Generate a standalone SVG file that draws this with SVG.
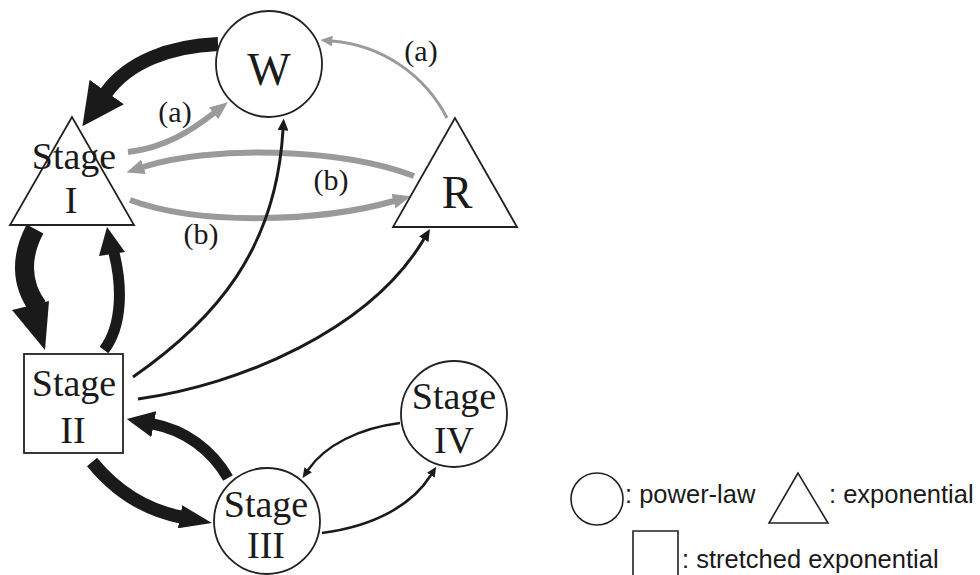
<svg xmlns="http://www.w3.org/2000/svg" width="980" height="575" viewBox="0 0 980 575">
  <style>
    .node { fill: #ffffff; stroke: #222222; stroke-width: 1.8; }
    .lab { font-family: "Liberation Serif", "Times New Roman", serif; fill: #1a1a1a; text-anchor: middle; }
    .stage { font-size: 38px; }
    .big { font-size: 46px; }
    .tag { font-family: "Liberation Serif", "Times New Roman", serif; font-size: 30px; fill: #1a1a1a; text-anchor: middle; }
    .edge { fill: none; stroke-linecap: butt; }
    .blk { stroke: #1a1a1a; }
    .gry { stroke: #9a9a9a; }
    .head { fill: #1a1a1a; }
    .leg { fill: none; stroke: #222222; stroke-width: 1.6; }
    .legtxt { font-family: "Liberation Sans", Arial, sans-serif; font-size: 25.5px; fill: #1a1a1a; }
  </style>
  <defs>
    <marker id="m-thin-blk" viewBox="0 0 10 10" refX="0.3" refY="5" markerWidth="4" markerHeight="3.6" orient="auto" preserveAspectRatio="none">
      <path d="M0,0 L10,5 L0,10 z" fill="#1a1a1a"/>
    </marker>
    <marker id="m-thin-gry" viewBox="0 0 10 10" refX="0.3" refY="5" markerWidth="4" markerHeight="3.6" orient="auto" preserveAspectRatio="none">
      <path d="M0,0 L10,5 L0,10 z" fill="#9a9a9a"/>
    </marker>
    <marker id="m-gry" viewBox="0 0 10 10" refX="0.3" refY="5" markerWidth="3" markerHeight="2.5" orient="auto" preserveAspectRatio="none">
      <path d="M0,0 L10,5 L0,10 z" fill="#9a9a9a"/>
    </marker>
    <marker id="m-bold" viewBox="0 0 10 10" refX="0.3" refY="5" markerWidth="3" markerHeight="3" orient="auto" preserveAspectRatio="none">
      <path d="M0,0 L10,5 L0,10 z" fill="#1a1a1a"/>
    </marker>
    <marker id="m-blunt" viewBox="0 0 10 10" refX="0.3" refY="5" markerWidth="2.5" markerHeight="2.4" orient="auto" preserveAspectRatio="none">
      <path d="M0,0 L10,5 L0,10 z" fill="#1a1a1a"/>
    </marker>
    <marker id="m-narrow" viewBox="0 0 10 10" refX="0.3" refY="5" markerWidth="2.5" markerHeight="1.8" orient="auto" preserveAspectRatio="none">
      <path d="M0,0 L10,5 L0,10 z" fill="#1a1a1a"/>
    </marker>
  </defs>

  <!-- transitions -->
  <g id="connectors">
    <!-- W -> Stage I -->
    <path class="edge blk" stroke-width="14" d="M218 44 C170 46 128 62 106 93" marker-end="url(#m-bold)"/>
    <!-- Stage I -> W (a) -->
    <path class="edge gry" stroke-width="6" d="M128 152 C165 148 192 130 214 113" marker-end="url(#m-gry)"/>
    <!-- R -> Stage I (b) -->
    <path class="edge gry" stroke-width="6" d="M414 176 C340 148 210 145 143 167" marker-end="url(#m-gry)"/>
    <!-- Stage I -> R (b) -->
    <path class="edge gry" stroke-width="6" d="M130 200 C200 226 320 222 394 201" marker-end="url(#m-gry)"/>
    <!-- R -> W (a) -->
    <path class="edge gry" stroke-width="3" d="M447 118 C425 75 382 45 332 41" marker-end="url(#m-thin-gry)"/>
    <!-- Stage II -> W -->
    <path class="edge blk" stroke-width="3" d="M133 377 C215 320 276 250 283 130" marker-end="url(#m-thin-blk)"/>
    <!-- Stage II -> R -->
    <path class="edge blk" stroke-width="3" d="M138 399 C240 385 370 330 424 239" marker-end="url(#m-thin-blk)"/>
    <!-- Stage I -> Stage II (half-barbed head) -->
    <path class="edge blk" stroke-width="19" d="M35 229 C21 255 20 283 38 307"/>
    <polygon class="head" points="12,310 49,301 45,350"/>
    <!-- Stage II -> Stage I (half-barbed head) -->
    <path class="edge blk" stroke-width="11" d="M104 350 C123 325 122 285 114 253"/>
    <polygon class="head" points="99,256 125,252 107,227"/>
    <!-- Stage III -> Stage II -->
    <path class="edge blk" stroke-width="11" d="M228 478 C212 450 185 430 153 424" marker-end="url(#m-blunt)"/>
    <!-- Stage II -> Stage III -->
    <path class="edge blk" stroke-width="13" d="M92 462 C115 490 145 510 181 517" marker-end="url(#m-narrow)"/>
    <!-- Stage IV -> Stage III -->
    <path class="edge blk" stroke-width="2.5" d="M400 423 C360 428 325 445 308 470" marker-end="url(#m-thin-blk)"/>
    <!-- Stage III -> Stage IV -->
    <path class="edge blk" stroke-width="2.5" d="M322 533 C375 526 412 505 431 475" marker-end="url(#m-thin-blk)"/>

    <text class="tag" x="175" y="122">(a)</text>
    <text class="tag" x="421" y="61">(a)</text>
    <text class="tag" x="331" y="190">(b)</text>
    <text class="tag" x="201" y="244">(b)</text>
  </g>

  <g id="node-w">
    <circle class="node" cx="269" cy="64" r="53"/>
    <text class="lab big" x="269" y="85">W</text>
  </g>

  <g id="node-stage1">
    <polygon class="node" points="72,117 10,225 134,225"/>
    <text class="lab stage" x="74" y="169">Stage</text>
    <text class="lab stage" x="71" y="213">I</text>
  </g>

  <g id="node-r">
    <polygon class="node" points="455,118 393,227 517,227"/>
    <text class="lab big" x="457" y="208">R</text>
  </g>

  <g id="node-stage2">
    <rect class="node" x="24" y="354" width="99" height="99"/>
    <text class="lab stage" x="74" y="396">Stage</text>
    <text class="lab stage" x="73" y="443">II</text>
  </g>

  <g id="node-stage3">
    <circle class="node" cx="267" cy="521" r="53"/>
    <text class="lab stage" x="266" y="517">Stage</text>
    <text class="lab stage" x="266" y="558">III</text>
  </g>

  <g id="node-stage4">
    <circle class="node" cx="454" cy="414" r="53"/>
    <text class="lab stage" x="454" y="409">Stage</text>
    <text class="lab stage" x="454" y="453">IV</text>
  </g>

  <!-- legend -->
  <g id="legend">
    <circle class="leg" cx="597" cy="499" r="26"/>
    <text class="legtxt" x="625" y="503">: power-law</text>
    <polygon class="leg" points="798,473 769,523 828,523"/>
    <text class="legtxt" x="829" y="503">: exponential</text>
    <path class="leg" d="M633 580 V531 H678 V580"/>
    <text class="legtxt" x="682" y="568">: stretched exponential</text>
  </g>
</svg>
